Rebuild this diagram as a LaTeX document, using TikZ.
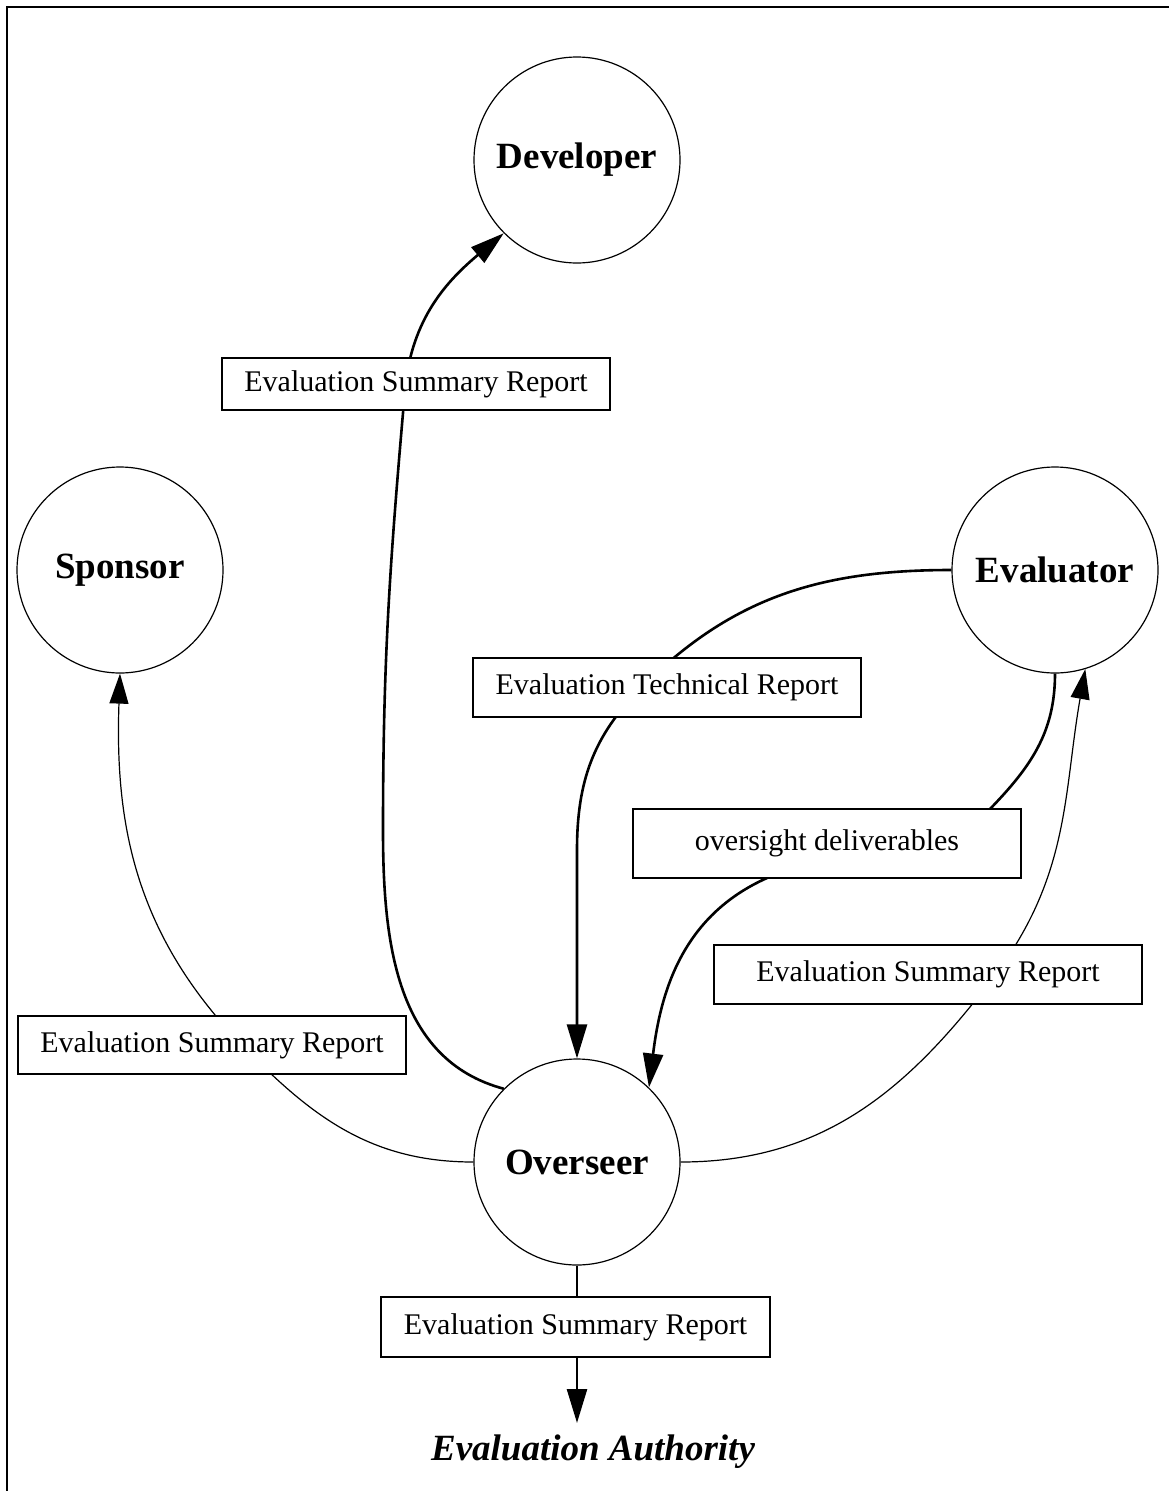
\documentclass[tikz,border=0pt]{standalone}
\usepackage{fontspec}
\setmainfont{Liberation Serif}
\usetikzlibrary{arrows.meta}
\pgfdeclarelayer{bg}
\pgfsetlayers{bg,main}

\begin{document}
\begin{tikzpicture}[x=1pt,y=1pt,
  party/.style={circle,draw,line width=1.2pt,minimum size=206pt,inner sep=0pt,
    fill=white,font=\fontsize{37}{44}\selectfont\bfseries},
  doc/.style={draw,line width=2pt,fill=white,inner sep=0pt,
    font=\fontsize{30}{36}\selectfont},
  flow/.style={line width=2.6pt,-{Triangle[length=34pt,width=20pt]}},
  thinflow/.style={line width=1.2pt,-{Triangle[length=30pt,width=19pt]}},
]
\useasboundingbox (0,0) rectangle (1168,-1491);
\draw[line width=2pt] (7,-1500) -- (7,-7) -- (1180,-7);

% parties
\node[party] (dev) at (577,-160)  {Developer};
\node[party] (sp)  at (120,-570)  {Sponsor};
\node[party] (ev)  at (1055,-570) {Evaluator};
\node[party] (ov)  at (577,-1162) {Overseer};

% documents passed along the flows
\node[doc,minimum width=388pt,minimum height=52pt] (b1) at (416,-384)   {Evaluation Summary Report};
\node[doc,minimum width=388pt,minimum height=59pt] (b2) at (667,-687.5) {Evaluation Technical Report};
\node[doc,minimum width=388pt,minimum height=69pt] (b3) at (827,-843.5) {oversight deliverables};
\node[doc,minimum width=428pt,minimum height=59pt] (b4) at (928,-974.5) {Evaluation Summary Report};
\node[doc,minimum width=388pt,minimum height=58pt] (b5) at (212,-1045)  {Evaluation Summary Report};
\node[doc,minimum width=389pt,minimum height=60pt] (b6) at (575.5,-1327) {Evaluation Summary Report};

\node[font=\fontsize{37}{44}\selectfont\bfseries\itshape,inner sep=0pt] (ea) at (593,-1452) {Evaluation Authority};

% waypoints of the curved flows
\coordinate (w1a) at (383,-830);
\coordinate (w1b) at (405,-390);
\coordinate (w2)  at (641,-688);
\coordinate (w2b) at (577,-850);
\coordinate (w3a) at (990,-809);
\coordinate (w3b) at (767,-878);
\coordinate (w4)  at (995,-975);
\coordinate (w5)  at (242,-1045);
\coordinate (eatop) at (577,-1423);

\begin{pgfonlayer}{bg}
\draw[flow] (ov.135) to[out=165,in=-90] (w1a) to[out=90,in=-95] (w1b)
  to[out=85,in=220] (dev.225);
\draw[flow] (ev.west) to[out=180,in=45] (w2) to[out=-135,in=90] (w2b) -- (ov.north);
\draw[flow] (ev.south) to[out=-90,in=46] (w3a) to[out=-134,in=24] (w3b)
  to[out=-156,in=83] (ov.46);
\draw[thinflow] (ov.east) to[out=0,in=-127] (w4) to[out=53,in=-100] (ev.-73);
\draw[thinflow] (ov.west) to[out=180,in=-46] (w5) to[out=134,in=-92] (sp.south);
\draw[flow] (ov.south) -- (eatop);
\end{pgfonlayer}
\end{tikzpicture}
\end{document}
